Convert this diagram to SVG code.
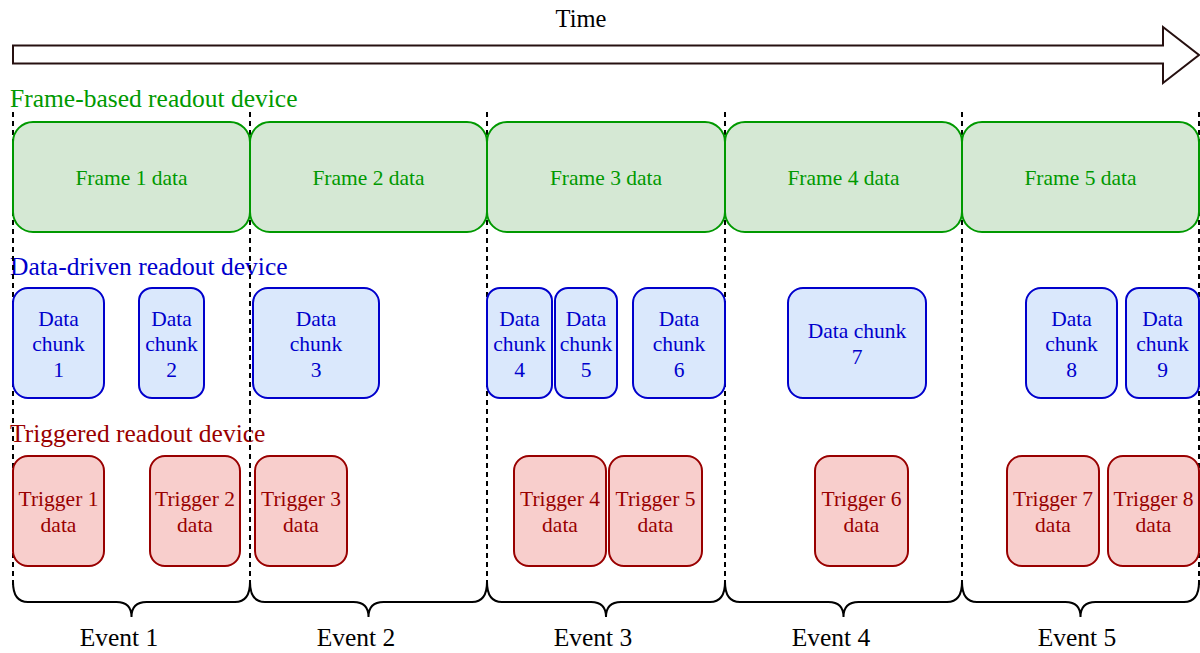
<svg xmlns="http://www.w3.org/2000/svg" width="1200" height="653" viewBox="0 0 1200 653">
<style>
text{font-family:"Liberation Serif","Times New Roman",serif;text-anchor:middle}
.hdr{font-size:25.5px;text-anchor:start}
.box{font-size:21.5px}
.ev{font-size:25.5px;fill:#000}
.fr{fill:#d5e8d4;stroke:#009900;stroke-width:2}
.fr-t{fill:#009900}
.dc{fill:#dae8fc;stroke:#0000cc;stroke-width:2}
.dc-t{fill:#0000cc}
.tr{fill:#f8cecc;stroke:#990000;stroke-width:2}
.tr-t{fill:#990000}
.dash{stroke:#000;stroke-width:2;stroke-dasharray:5 4;fill:none}
.brace{stroke:#000;stroke-width:2;fill:none}
</style>
<rect width="1200" height="653" fill="#fff"/>
<g id="time-arrow">
<polygon points="13,45.5 1163,45.5 1163,27 1199,55 1163,83 1163,63.5 13,63.5" fill="#fff" stroke="#261010" stroke-width="2"/>
<text x="581" y="27" style="font-size:24.5px" fill="#000">Time</text>
</g>
<g id="headers">
<text class="hdr fr-t" x="10" y="107">Frame-based readout device</text>
<text class="hdr dc-t" x="10" y="275">Data-driven readout device</text>
<text class="hdr tr-t" x="10" y="442">Triggered readout device</text>
</g>
<g id="connectors">
<path class="dash" d="M13,112V585M250,112V585M487,112V585M725,112V585M962,112V585M1199,112V585"/>
<path class="brace" d="M13,582Q13,602 28,602H116.5Q131.5,602 131.5,617Q131.5,602 146.5,602H235Q250,602 250,582"/>
<path class="brace" d="M250,582Q250,602 265,602H353.5Q368.5,602 368.5,617Q368.5,602 383.5,602H472Q487,602 487,582"/>
<path class="brace" d="M487,582Q487,602 502,602H591Q606,602 606,617Q606,602 621,602H710Q725,602 725,582"/>
<path class="brace" d="M725,582Q725,602 740,602H828.5Q843.5,602 843.5,617Q843.5,602 858.5,602H947Q962,602 962,582"/>
<path class="brace" d="M962,582Q962,602 977,602H1065.5Q1080.5,602 1080.5,617Q1080.5,602 1095.5,602H1184Q1199,602 1199,582"/>
</g>
<g id="frame1"><rect class="fr" x="13" y="122" width="237" height="110" rx="20"/><text class="box fr-t" x="131.5" y="185">Frame 1 data</text></g>
<g id="frame2"><rect class="fr" x="250" y="122" width="237" height="110" rx="20"/><text class="box fr-t" x="368.5" y="185">Frame 2 data</text></g>
<g id="frame3"><rect class="fr" x="487" y="122" width="238" height="110" rx="20"/><text class="box fr-t" x="606" y="185">Frame 3 data</text></g>
<g id="frame4"><rect class="fr" x="725" y="122" width="237" height="110" rx="20"/><text class="box fr-t" x="843.5" y="185">Frame 4 data</text></g>
<g id="frame5"><rect class="fr" x="962" y="122" width="237" height="110" rx="20"/><text class="box fr-t" x="1080.5" y="185">Frame 5 data</text></g>
<g id="chunk1"><rect class="dc" x="13" y="288" width="91" height="110" rx="15"/><text class="box dc-t" x="58.5" y="326">Data<tspan x="58.5" dy="25">chunk</tspan><tspan x="58.5" dy="26">1</tspan></text></g>
<g id="chunk2"><rect class="dc" x="139" y="288" width="65" height="110" rx="13"/><text class="box dc-t" x="171.5" y="326">Data<tspan x="171.5" dy="25">chunk</tspan><tspan x="171.5" dy="26">2</tspan></text></g>
<g id="chunk3"><rect class="dc" x="253" y="288" width="126" height="110" rx="15"/><text class="box dc-t" x="316" y="326">Data<tspan x="316" dy="25">chunk</tspan><tspan x="316" dy="26">3</tspan></text></g>
<g id="chunk4"><rect class="dc" x="487" y="288" width="65" height="110" rx="13"/><text class="box dc-t" x="519.5" y="326">Data<tspan x="519.5" dy="25">chunk</tspan><tspan x="519.5" dy="26">4</tspan></text></g>
<g id="chunk5"><rect class="dc" x="555" y="288" width="62" height="110" rx="13"/><text class="box dc-t" x="586" y="326">Data<tspan x="586" dy="25">chunk</tspan><tspan x="586" dy="26">5</tspan></text></g>
<g id="chunk6"><rect class="dc" x="633" y="288" width="92" height="110" rx="15"/><text class="box dc-t" x="679" y="326">Data<tspan x="679" dy="25">chunk</tspan><tspan x="679" dy="26">6</tspan></text></g>
<g id="chunk7"><rect class="dc" x="788" y="288" width="138" height="110" rx="15"/><text class="box dc-t" x="857" y="338">Data chunk<tspan x="857" dy="26">7</tspan></text></g>
<g id="chunk8"><rect class="dc" x="1026" y="288" width="91" height="110" rx="15"/><text class="box dc-t" x="1071.5" y="326">Data<tspan x="1071.5" dy="25">chunk</tspan><tspan x="1071.5" dy="26">8</tspan></text></g>
<g id="chunk9"><rect class="dc" x="1126" y="288" width="73" height="110" rx="13"/><text class="box dc-t" x="1162.5" y="326">Data<tspan x="1162.5" dy="25">chunk</tspan><tspan x="1162.5" dy="26">9</tspan></text></g>
<g id="trigger1"><rect class="tr" x="13" y="456" width="91" height="110" rx="15"/><text class="box tr-t" x="58.5" y="506">Trigger 1<tspan x="58.5" dy="26">data</tspan></text></g>
<g id="trigger2"><rect class="tr" x="150" y="456" width="90" height="110" rx="15"/><text class="box tr-t" x="195" y="506">Trigger 2<tspan x="195" dy="26">data</tspan></text></g>
<g id="trigger3"><rect class="tr" x="255" y="456" width="92" height="110" rx="15"/><text class="box tr-t" x="301" y="506">Trigger 3<tspan x="301" dy="26">data</tspan></text></g>
<g id="trigger4"><rect class="tr" x="514" y="456" width="92" height="110" rx="15"/><text class="box tr-t" x="560" y="506">Trigger 4<tspan x="560" dy="26">data</tspan></text></g>
<g id="trigger5"><rect class="tr" x="609" y="456" width="93" height="110" rx="15"/><text class="box tr-t" x="655.5" y="506">Trigger 5<tspan x="655.5" dy="26">data</tspan></text></g>
<g id="trigger6"><rect class="tr" x="815" y="456" width="93" height="110" rx="15"/><text class="box tr-t" x="861.5" y="506">Trigger 6<tspan x="861.5" dy="26">data</tspan></text></g>
<g id="trigger7"><rect class="tr" x="1007" y="456" width="92" height="110" rx="15"/><text class="box tr-t" x="1053" y="506">Trigger 7<tspan x="1053" dy="26">data</tspan></text></g>
<g id="trigger8"><rect class="tr" x="1108" y="456" width="91" height="110" rx="15"/><text class="box tr-t" x="1153.5" y="506">Trigger 8<tspan x="1153.5" dy="26">data</tspan></text></g>
<g id="events">
<text class="ev" x="119" y="646">Event 1</text>
<text class="ev" x="356" y="646">Event 2</text>
<text class="ev" x="593" y="646">Event 3</text>
<text class="ev" x="831" y="646">Event 4</text>
<text class="ev" x="1077" y="646">Event 5</text>
</g>
</svg>
